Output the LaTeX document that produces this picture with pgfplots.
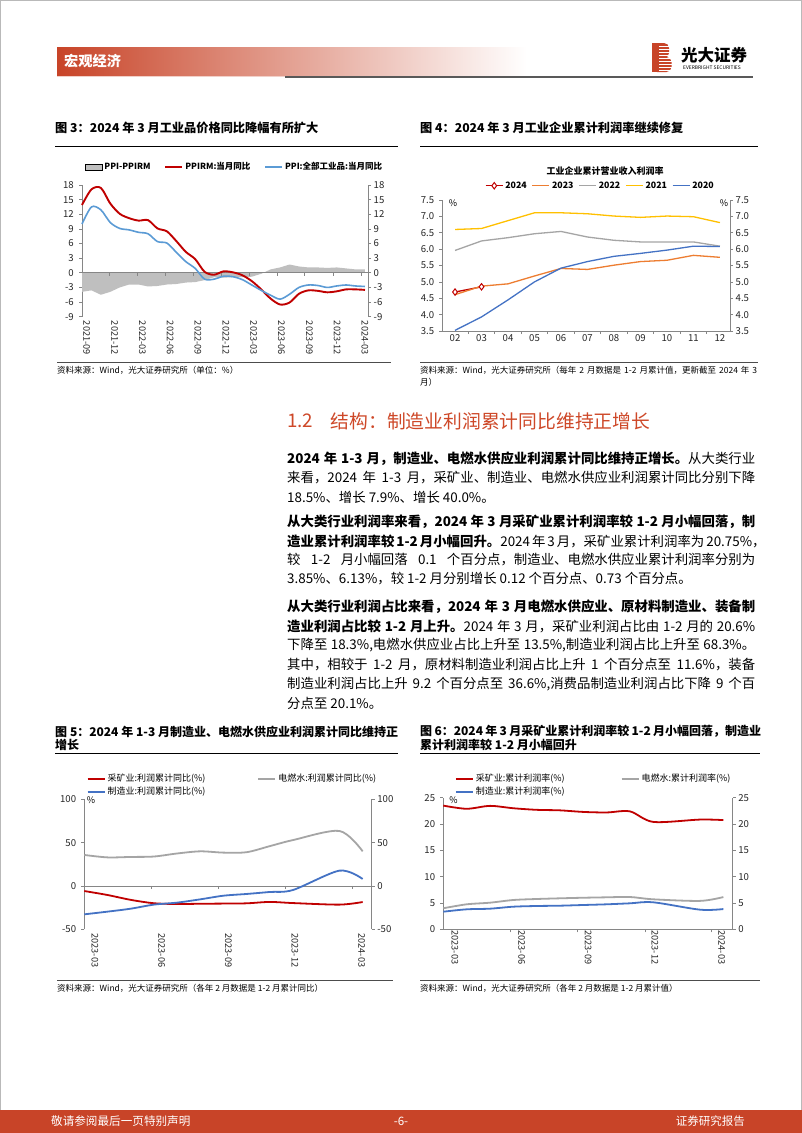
\documentclass[border=0pt]{standalone}
\usepackage{fontspec}
\setmainfont{Noto Sans CJK SC}
\usepackage{pgfplots}
\pgfplotsset{compat=1.18}
\definecolor{hdr}{RGB}{200,68,40}
\definecolor{sec}{RGB}{206,72,40}
\definecolor{cred}{RGB}{192,0,0}
\definecolor{cblue}{RGB}{91,155,213}
\definecolor{cblue2}{RGB}{68,114,196}
\definecolor{cgray}{RGB}{165,165,165}
\definecolor{cfill}{RGB}{191,191,191}
\definecolor{corange}{RGB}{237,125,49}
\definecolor{cyellow}{RGB}{255,192,0}
\definecolor{axg}{RGB}{134,134,134}
\newcommand{\cf}[1]{\fontsize{#1bp}{#1bp}\selectfont}
\pgfplotsset{
  pg/.style={
    scale only axis, anchor=north west, clip=false,
    axis line style={draw=axg, line width=0.7bp},
    tick style={draw=axg, line width=0.7bp},
    major tick length=3bp,
    tick align=outside,
    tick label style={font=\cf{9.6}, text=black!85},
    xticklabel style={font=\cf{9.2}},
    /pgf/number format/assume math mode=true,
    legend cell align=left,
  },
  pgright/.style={pg, axis x line=none, axis y line*=right,
    yticklabel style={anchor=west, inner sep=1bp, xshift=1.5bp}},
}
\newcommand{\bl}[2]{\node[anchor=west,inner sep=0pt] at (287,#1) {\cf{13.4}\makebox[468bp][s]{#2}};}
\newcommand{\blr}[2]{\node[anchor=west,inner sep=0pt] at (287,#1) {\cf{13.4}#2};}
\begin{document}
\begin{tikzpicture}[x=1bp,y=1bp]
\begin{scope}[y=-1bp]
\useasboundingbox (0,0) rectangle (802,1133);
\fill[white] (0,0) rectangle (802,1133);
\draw[gray!55, line width=1.2bp] (0.6,0.6) rectangle (801.4,1132.4);
% ---------- header ----------
\shade[left color=hdr, middle color=hdr!45, right color=white] (57,47) rectangle (527,75);
\draw[hdr!25, line width=0.8bp] (57,76) -- (285,76);
\node[anchor=west, inner sep=0pt, text=white] at (64,61.5) {\cf{14.2}\bfseries 宏观经济};
\draw[black!65, line width=1.5bp] (285,77) -- (753,77);
% logo
\fill[hdr, rounded corners=5bp] (652,43) rectangle (669,58);
\fill[hdr, rounded corners=5bp] (652,57) rectangle (671.5,72);
\fill[hdr] (652,43) rectangle (660,72);
\foreach \yy in {46,49,52,55,58,61,64,67,70} \draw[white, line width=0.9bp] (659,\yy) -- (673,\yy);
\node[anchor=west, inner sep=0pt] at (681,55) {\cf{16.5}\bfseries 光大证券};
\node[anchor=west, inner sep=0pt] at (683,67.8) {\cf{4.9}EVERBRIGHT SECURITIES};
% ---------- figure titles top ----------
\node[anchor=west, inner sep=0pt] at (55,128) {\cf{12.2}\bfseries 图 3：2024 年 3 月工业品价格同比降幅有所扩大};
\draw[black, line width=0.9bp] (55,146) -- (398,146);
\node[anchor=west, inner sep=0pt] at (420,128) {\cf{12.2}\bfseries 图 4：2024 年 3 月工业企业累计利润率继续修复};
\draw[black, line width=0.9bp] (420,146) -- (758,146);
\draw[black!70, line width=0.8bp] (57,362.7) -- (391,362.7);
\node[anchor=west, inner sep=0pt] at (57,370.5) {\cf{8.5}资料来源：Wind，光大证券研究所（单位：\%）};
\node[inner sep=0pt] at (605,170.7) {\cf{9}\bfseries 工业企业累计营业收入利润率};
\node[inner sep=0pt] at (453,203) {\cf{9}\%};
\node[inner sep=0pt] at (724,203) {\cf{9}\%};
\draw[black!70, line width=0.8bp] (420,362.3) -- (758,362.3);
\node[anchor=west, inner sep=0pt] at (420,370) {\cf{8.5}\makebox[337bp][s]{资料来源：Wind，光大证券研究所（每年 2 月数据是 1-2 月累计值，更新截至 2024 年 3}};
\node[anchor=west, inner sep=0pt] at (420,382) {\cf{8.5}月）};
% ---------- section text ----------
\node[anchor=west, inner sep=0pt, text=sec] at (287,421) {\cf{18.8}1.2};
\node[anchor=west, inner sep=0pt, text=sec] at (330.5,421) {\cf{18.8}结构：制造业利润累计同比维持正增长};
\bl{459}{\bfseries 2024 年 1-3 月，制造业、电燃水供应业利润累计同比维持正增长。\mdseries 从大类行业}
\bl{478}{来看，2024 年 1-3 月，采矿业、制造业、电燃水供应业利润累计同比分别下降}
\blr{497}{18.5\%、增长 7.9\%、增长 40.0\%。}
\bl{522}{\bfseries 从大类行业利润率来看，2024 年 3 月采矿业累计利润率较 1-2 月小幅回落，制}
\bl{541}{\bfseries 造业累计利润率较 1-2 月小幅回升。\mdseries 2024 年 3 月，采矿业累计利润率为 20.75\%，}
\bl{560}{较 1-2 月小幅回落 0.1 个百分点，制造业、电燃水供应业累计利润率分别为}
\blr{579}{3.85\%、6.13\%，较 1-2 月分别增长 0.12 个百分点、0.73 个百分点。}
\bl{607}{\bfseries 从大类行业利润占比来看，2024 年 3 月电燃水供应业、原材料制造业、装备制}
\bl{626}{\bfseries 造业利润占比较 1-2 月上升。\mdseries 2024 年 3 月，采矿业利润占比由 1-2 月的 20.6\%}
\bl{645}{下降至 18.3\%,电燃水供应业占比上升至 13.5\%,制造业利润占比上升至 68.3\%。}
\bl{664.5}{其中，相较于 1-2 月，原材料制造业利润占比上升 1 个百分点至 11.6\%，装备}
\bl{684}{制造业利润占比上升 9.2 个百分点至 36.6\%,消费品制造业利润占比下降 9 个百}
\blr{703}{分点至 20.1\%。}
% ---------- figure titles bottom ----------
\node[anchor=west, inner sep=0pt] at (55,731.7) {\cf{12}\bfseries\makebox[343bp][s]{图 5：2024 年 1-3 月制造业、电燃水供应业利润累计同比维持正}};
\node[anchor=west, inner sep=0pt] at (55,745.3) {\cf{12}\bfseries 增长};
\draw[black, line width=0.9bp] (55,753.3) -- (398,753.3);
\node[anchor=west, inner sep=0pt] at (420,731.7) {\cf{12}\bfseries\makebox[341bp][s]{图 6：2024 年 3 月采矿业累计利润率较 1-2 月小幅回落，制造业}};
\node[anchor=west, inner sep=0pt] at (420,745.3) {\cf{12}\bfseries 累计利润率较 1-2 月小幅回升};
\draw[black, line width=0.9bp] (420,753.3) -- (760,753.3);
\node[inner sep=0pt] at (91,800) {\cf{9}\%};
\draw[black!70, line width=0.8bp] (57,980.7) -- (393,980.7);
\node[anchor=west, inner sep=0pt] at (57,988) {\cf{8.5}资料来源：Wind，光大证券研究所（各年 2 月数据是 1-2 月累计同比）};
\node[inner sep=0pt] at (453.5,800) {\cf{9}\%};
\draw[black!70, line width=0.8bp] (420,980) -- (760,980);
\node[anchor=west, inner sep=0pt] at (420,988) {\cf{8.5}资料来源：Wind，光大证券研究所（各年 2 月数据是 1-2 月累计值）};
% ---------- footer ----------
\fill[hdr] (0,1110) rectangle (802,1133);
\node[anchor=west, inner sep=0pt, text=white] at (51,1121.5) {\cf{11.6}敬请参阅最后一页特别声明};
\node[inner sep=0pt, text=white] at (401,1121.5) {\cf{11.6}-6-};
\node[anchor=east, inner sep=0pt, text=white] at (745,1121.5) {\cf{11.5}证券研究报告};
\end{scope}
% ---------- chart 3 ----------
\begin{axis}[pg, at={(82bp,-185bp)}, width=286bp, height=131.7bp,
  xmin=0, xmax=30.32, ymin=-9, ymax=18,
  axis x line*=bottom, axis y line*=left,
  x axis line style={draw=none}, xtick style={draw=none},
  xtick={0.5,3.45,6.4,9.35,12.3,15.25,18.2,21.15,24.1,27.05,30},
  xticklabels={2021-09,2021-12,2022-03,2022-06,2022-09,2022-12,2023-03,2023-06,2023-09,2023-12,2024-03},
  xticklabel style={rotate=-90, anchor=west, inner sep=1bp},
  ytick={-9,-6,...,18}, yticklabel style={anchor=east, inner sep=1bp, xshift=-4bp},
  legend columns=3,
  legend style={draw=none, fill=none, at={(axis description cs:0.01,1.137)}, anchor=west,
    font=\cf{8.5}\bfseries, inner sep=0pt, /tikz/every even column/.append style={column sep=12bp}},
]
\addplot[fill=cfill, draw=none, area legend] coordinates {(0,0) (0,-3.9) (1,-3.6) (2,-4.5) (3,-3.9) (4,-3.0) (5,-2.4) (6,-2.4) (7,-2.8) (8,-2.7) (9,-2.4) (10,-2.3) (11,-2.0) (12,-1.9) (13,-1.5) (14,-0.9) (15,-1.0) (16,-0.9) (17,-0.9) (18,-0.8) (19,-0.2) (20,0.7) (21,1.1) (22,1.7) (23,1.3) (24,1.1) (25,1.1) (26,1.0) (27,1.1) (28,0.9) (29,0.7) (30,0.7) (30,0)};
\addlegendentry{PPI-PPIRM}
\draw[axg, line width=0.7bp] (axis cs:0,0) -- (axis cs:30.32,0);
\pgfplotsinvokeforeach{2.9,5.86,8.8,11.8,14.8,17.7,20.7,23.6,26.6,29.6}{\draw[axg, line width=0.7bp] (axis cs:#1,0) -- ++(0pt,-3pt);}
\addplot[cred, line width=1.9bp, smooth] coordinates {(0,13.9) (1,17.1) (2,17.4) (3,14.2) (4,12.1) (5,11.2) (6,10.7) (7,10.8) (8,9.1) (9,8.5) (10,6.5) (11,4.3) (12,2.8) (13,0.2) (14,-0.4) (15,0.3) (16,0.1) (17,-0.5) (18,-1.7) (19,-3.4) (20,-5.3) (21,-6.5) (22,-6.1) (23,-4.3) (24,-3.6) (25,-3.7) (26,-4.0) (27,-3.8) (28,-3.4) (29,-3.4) (30,-3.5)};
\addlegendentry{PPIRM:当月同比}
\addplot[cblue, line width=1.6bp, smooth] coordinates {(0,10.0) (1,13.5) (2,12.9) (3,10.3) (4,9.1) (5,8.8) (6,8.3) (7,8.0) (8,6.4) (9,6.1) (10,4.2) (11,2.3) (12,0.9) (13,-1.3) (14,-1.3) (15,-0.7) (16,-0.8) (17,-1.4) (18,-2.5) (19,-3.6) (20,-4.6) (21,-5.4) (22,-4.4) (23,-3.0) (24,-2.5) (25,-2.6) (26,-3.0) (27,-2.7) (28,-2.5) (29,-2.7) (30,-2.8)};
\addlegendentry{PPI:全部工业品:当月同比}
\end{axis}
\begin{axis}[pgright, at={(82bp,-185bp)}, width=286bp, height=131.7bp,
  xmin=0, xmax=30.32, ymin=-9, ymax=18, ytick={-9,-6,...,18}]
\end{axis}
% ---------- chart 4 ----------
\begin{axis}[pg, at={(442.3bp,-200bp)}, width=287.7bp, height=131bp,
  xmin=1.52, xmax=12.38, ymin=3.5, ymax=7.5,
  axis x line*=bottom, axis y line*=left,
  xtick={2.5,3.5,...,11.5}, xticklabels={},
  extra x ticks={2,...,12}, extra x tick labels={02,03,04,05,06,07,08,09,10,11,12},
  extra x tick style={major tick length=0pt, tick style={draw=none}},
  xticklabel style={font=\cf{9.6}},
  ytick={3.5,4,...,7.5},
  yticklabel style={anchor=east, inner sep=1bp, xshift=-4bp, /pgf/number format/.cd, fixed, fixed zerofill, precision=1},
  legend columns=5,
  legend style={draw=none, fill=none, at={(axis description cs:0.148,1.109)}, anchor=west,
    font=\cf{8.8}\bfseries, inner sep=0pt, /tikz/every even column/.append style={column sep=3bp}},
]
\addplot[cred, line width=1.3bp, mark=diamond*, mark size=3.2bp, mark options={fill=white, draw=cred, line width=1bp}] coordinates {(2,4.69) (3,4.85)};
\addlegendentry{2024}
\addplot[corange, line width=1.3bp] coordinates {(2,4.61) (3,4.87) (4,4.94) (5,5.18) (6,5.41) (7,5.38) (8,5.51) (9,5.62) (10,5.66) (11,5.81) (12,5.75)};
\addlegendentry{2023}
\addplot[cgray, line width=1.3bp] coordinates {(2,5.96) (3,6.25) (4,6.35) (5,6.47) (6,6.54) (7,6.37) (8,6.27) (9,6.22) (10,6.22) (11,6.22) (12,6.09)};
\addlegendentry{2022}
\addplot[cyellow, line width=1.3bp] coordinates {(2,6.60) (3,6.63) (4,6.87) (5,7.11) (6,7.11) (7,7.08) (8,7.01) (9,6.97) (10,7.01) (11,6.99) (12,6.81)};
\addlegendentry{2021}
\addplot[cblue2, line width=1.3bp] coordinates {(2,3.52) (3,3.93) (4,4.45) (5,5.00) (6,5.42) (7,5.62) (8,5.78) (9,5.87) (10,5.97) (11,6.09) (12,6.08)};
\addlegendentry{2020}
\end{axis}
\begin{axis}[pgright, at={(442.3bp,-200bp)}, width=287.7bp, height=131bp,
  xmin=1.52, xmax=12.38, ymin=3.5, ymax=7.5, ytick={3.5,4,...,7.5},
  yticklabel style={/pgf/number format/.cd, fixed, fixed zerofill, precision=1}]
\end{axis}
% ---------- chart 5 ----------
\begin{axis}[pg, at={(84.3bp,-799.3bp)}, width=287.4bp, height=130bp,
  xmin=0, xmax=12.39, ymin=-50, ymax=100,
  axis x line*=bottom, axis y line*=left,
  x axis line style={draw=none}, xtick style={draw=none},
  xtick={0.46,3.34,6.21,9.08,11.96}, xticklabels={2023-03,2023-06,2023-09,2023-12,2024-03},
  xticklabel style={rotate=-90, anchor=west, inner sep=1bp},
  ytick={-50,0,50,100}, yticklabel style={anchor=east, inner sep=1bp, xshift=-4bp},
  legend columns=2,
  legend style={draw=none, fill=none, at={(axis description cs:0.008,1.21)}, anchor=north west,
    font=\cf{9}, inner sep=0pt, /tikz/every even column/.append style={column sep=50bp}},
]
\draw[axg, line width=0.7bp] (axis cs:0,0) -- (axis cs:12.39,0);
\pgfplotsinvokeforeach{2.87,5.76,8.65,11.54}{\draw[axg, line width=0.7bp] (axis cs:#1,0) -- ++(0pt,-3pt);}
\addplot[cred, line width=1.8bp, smooth] coordinates {(0,-5.8) (1,-10.4) (2,-16.0) (3,-19.9) (4,-20.8) (5,-20.5) (6,-20.3) (7,-20.0) (8,-18.4) (9,-19.7) (11,-21.5) (12,-18.5)};
\addlegendentry{采矿业:利润累计同比(\%)}
\addplot[cgray, line width=1.8bp, smooth] coordinates {(0,35.8) (1,33.0) (2,33.5) (3,34.0) (4,37.5) (5,40.0) (6,38.5) (7,39.0) (8,46.0) (9,53.0) (11,63.5) (12,40.0)};
\addlegendentry{电燃水:利润累计同比(\%)}
\addplot[cblue2, line width=1.8bp, smooth] coordinates {(0,-32.7) (1,-29.6) (2,-26.2) (3,-21.5) (4,-19.2) (5,-15.4) (6,-11.2) (7,-9.2) (8,-6.9) (9,-4.6) (11,17.7) (12,8.1)};
\addlegendentry{制造业:利润累计同比(\%)}
\end{axis}
\begin{axis}[pgright, at={(84.3bp,-799.3bp)}, width=287.4bp, height=130bp,
  xmin=0, xmax=12.39, ymin=-50, ymax=100, ytick={-50,0,50,100}]
\end{axis}
% ---------- chart 6 ----------
\begin{axis}[pg, at={(443.3bp,-797.7bp)}, width=289.4bp, height=131.6bp,
  xmin=0, xmax=12.4, ymin=0, ymax=25,
  axis x line*=bottom, axis y line*=left,
  xtick={2.86,5.74,8.64,11.5}, xticklabels={},
  extra x ticks={0.5,3.36,6.21,9.07,11.93}, extra x tick labels={2023-03,2023-06,2023-09,2023-12,2024-03},
  extra x tick style={major tick length=0pt, tick style={draw=none}},
  xticklabel style={rotate=-90, anchor=west, inner sep=1bp},
  ytick={0,5,...,25}, yticklabel style={anchor=east, inner sep=1bp, xshift=-4bp},
  legend columns=2,
  legend style={draw=none, fill=none, at={(axis description cs:0.04,1.195)}, anchor=north west,
    font=\cf{9}, inner sep=0pt, /tikz/every even column/.append style={column sep=54bp}},
]
\addplot[cred, line width=1.8bp, smooth] coordinates {(0,23.5) (1,22.9) (2,23.45) (3,23.0) (4,22.7) (5,22.6) (6,22.3) (7,22.2) (8,22.4) (9,20.4) (11,20.85) (12,20.75)};
\addlegendentry{采矿业:累计利润率(\%)}
\addplot[cgray, line width=1.8bp, smooth] coordinates {(0,4.0) (1,4.75) (2,5.06) (3,5.57) (4,5.76) (5,5.89) (6,6.0) (7,6.08) (8,6.14) (9,5.70) (11,5.40) (12,6.13)};
\addlegendentry{电燃水:累计利润率(\%)}
\addplot[cblue2, line width=1.8bp, smooth] coordinates {(0,3.35) (1,3.8) (2,3.92) (3,4.3) (4,4.43) (5,4.49) (6,4.62) (7,4.75) (8,4.94) (9,5.13) (11,3.73) (12,3.85)};
\addlegendentry{制造业:累计利润率(\%)}
\end{axis}
\begin{axis}[pgright, at={(443.3bp,-797.7bp)}, width=289.4bp, height=131.6bp,
  xmin=0, xmax=12.4, ymin=0, ymax=25, ytick={0,5,...,25}]
\end{axis}
\end{tikzpicture}
\end{document}
